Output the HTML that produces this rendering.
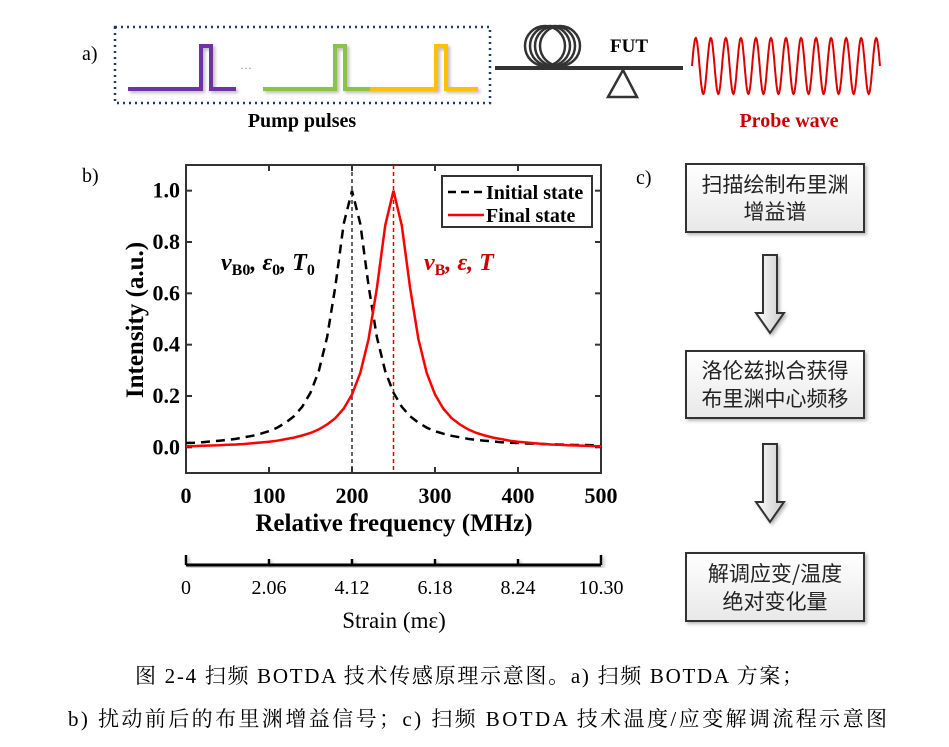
<!DOCTYPE html>
<html><head><meta charset="utf-8"><style>
body{margin:0;background:#fff;}
svg text{font-family:"Liberation Serif","Noto Serif CJK SC",serif;}
</style></head><body>
<svg width="949" height="742" viewBox="0 0 949 742" xmlns="http://www.w3.org/2000/svg">
<defs>
<filter id="sh" x="-10%" y="-10%" width="130%" height="140%"><feDropShadow dx="2" dy="2" stdDeviation="1.5" flood-color="#888" flood-opacity="0.6"/></filter>
<linearGradient id="bg" x1="0" y1="0" x2="0" y2="1"><stop offset="0" stop-color="#fff"/><stop offset="1" stop-color="#e8e8e8"/></linearGradient>
<linearGradient id="ag" x1="0" y1="0" x2="1" y2="0"><stop offset="0" stop-color="#fff"/><stop offset="1" stop-color="#c8c8c8"/></linearGradient>
</defs>
<!-- Panel a -->
<g>
<text x="82" y="60" font-size="20">a)</text>
<rect x="115" y="27" width="375" height="76" fill="none" stroke="#1f3a6e" stroke-width="2.5" stroke-dasharray="2,4"/>
<g filter="url(#sh)" fill="none" stroke-width="4">
<path d="M128 89 H201 V46 H211 V89 H236" stroke="#7030a0"/>
<path d="M263 89 H335 V46 H345 V89 H370" stroke="#8bc34a"/>
<path d="M370 89 H436 V46 H446 V89 H478" stroke="#ffc000"/>
</g>
<text x="240" y="72" font-size="12" fill="#888">···</text>
<text x="302" y="127" font-size="20" font-weight="bold" text-anchor="middle">Pump pulses</text>
<line x1="495" y1="68" x2="683" y2="68" stroke="#333" stroke-width="4"/>
<g fill="none" stroke="#333" stroke-width="2.5">
<circle cx="545" cy="46" r="20"/><circle cx="550" cy="46" r="20"/><circle cx="555" cy="46" r="20"/><circle cx="560" cy="46" r="20"/>
</g>
<text x="629" y="52" font-size="19" font-weight="bold" text-anchor="middle">FUT</text>
<polygon points="623,70 608,97 637,97" fill="none" stroke="#333" stroke-width="2.5"/>
<path id="probe" fill="none" stroke="#d00" stroke-width="2"/>
<text x="789" y="127" font-size="20" font-weight="bold" fill="#c00" text-anchor="middle">Probe wave</text>
</g>
<!-- Panel b -->
<g id="chart">
<text x="82" y="182" font-size="20">b)</text>
</g>
<!-- Panel c -->
<g font-size="21">
<text x="636" y="184" font-size="20">c)</text>
<g filter="url(#sh)">
<rect x="686" y="164" width="178" height="68" fill="url(#bg)" stroke="#333" stroke-width="2"/>
<rect x="686" y="351" width="178" height="67" fill="url(#bg)" stroke="#333" stroke-width="2"/>
<rect x="686" y="553" width="178" height="68" fill="url(#bg)" stroke="#333" stroke-width="2"/>
<path d="M763 255 H777 V313 H784 L770 333 L756 313 H763 Z" fill="url(#ag)" stroke="#333" stroke-width="2"/>
<path d="M763 444 H777 V502 H784 L770 522 L756 502 H763 Z" fill="url(#ag)" stroke="#333" stroke-width="2"/>
</g>
<g text-anchor="middle" fill="#222">
<text x="775" y="192" style="font-family:'Noto Sans CJK SC',sans-serif">扫描绘制布里渊</text>
<text x="775" y="219" style="font-family:'Noto Sans CJK SC',sans-serif">增益谱</text>
<text x="775" y="378" style="font-family:'Noto Sans CJK SC',sans-serif">洛伦兹拟合获得</text>
<text x="775" y="406" style="font-family:'Noto Sans CJK SC',sans-serif">布里渊中心频移</text>
<text x="775" y="581" style="font-family:'Noto Sans CJK SC',sans-serif">解调应变/温度</text>
<text x="775" y="609" style="font-family:'Noto Sans CJK SC',sans-serif">绝对变化量</text>
</g>
</g>
<!-- Caption -->
<text x="135" y="683" font-size="21" textLength="668" lengthAdjust="spacing">图 2-4  扫频 BOTDA 技术传感原理示意图。a)  扫频 BOTDA 方案；</text>
<text x="68" y="726" font-size="21" textLength="819" lengthAdjust="spacing">b)  扰动前后的布里渊增益信号；c)  扫频 BOTDA 技术温度/应变解调流程示意图</text>
</svg>
<script>
const freqs=[];for(let f=0;f<=500;f+=10)freqs.push(f);
const initialState=[0.017,0.018,0.020,0.023,0.026,0.029,0.033,0.039,0.045,0.053,0.063,0.077,0.096,0.121,0.158,0.213,0.297,0.429,0.628,0.871,1.0,0.871,0.628,0.429,0.297,0.213,0.158,0.121,0.096,0.077,0.063,0.053,0.045,0.039,0.033,0.029,0.026,0.023,0.020,0.018,0.017,0.015,0.014,0.013,0.012,0.011,0.010,0.009,0.009,0.008,0.007];
const finalState=[0.004,0.005,0.006,0.007,0.008,0.010,0.011,0.013,0.016,0.019,0.022,0.026,0.032,0.038,0.046,0.056,0.070,0.089,0.114,0.151,0.206,0.290,0.422,0.621,0.864,1.0,0.864,0.621,0.422,0.290,0.206,0.151,0.114,0.089,0.070,0.056,0.046,0.038,0.032,0.026,0.022,0.019,0.016,0.013,0.011,0.010,0.008,0.007,0.006,0.005,0.004];
const xTicks=[0,100,200,300,400,500];
const yTicks=[0.0,0.2,0.4,0.6,0.8,1.0];
const strainLabels=["0","2.06","4.12","6.18","8.24","10.30"];
const markerInitial=200, markerFinal=250;
const NS="http://www.w3.org/2000/svg";
const L=186,R=601,T=165,B=473;
const X=v=>L+(v-0)/(500-0)*(R-L);
const Y=v=>B-(v+0.1)/(1.2)*(B-T);
const g=document.getElementById('chart');
function el(tag,attrs,parent){const e=document.createElementNS(NS,tag);for(const k in attrs)e.setAttribute(k,attrs[k]);(parent||g).appendChild(e);return e;}
(function(){let d="";for(let i=0;i<=400;i++){const x=692+i*(188/400);const y=66-28*Math.sin(i/400*12.5*2*Math.PI);d+=(i?"L":"M")+x.toFixed(1)+" "+y.toFixed(1);}document.getElementById('probe').setAttribute('d',d);})();
const frame=el('rect',{x:L,y:T,width:R-L,height:B-T,fill:'none',stroke:'#333','stroke-width':2});


xTicks.forEach(t=>{
 el('line',{x1:X(t),x2:X(t),y1:B,y2:B-6,stroke:'#333','stroke-width':2});
 el('line',{x1:X(t),x2:X(t),y1:T,y2:T+6,stroke:'#333','stroke-width':2});
 const tx=el('text',{x:X(t),y:503,'font-size':22,'font-weight':'bold','text-anchor':'middle'});tx.textContent=t;
 
 
});
yTicks.forEach(t=>{
 el('line',{x1:L,x2:L+6,y1:Y(t),y2:Y(t),stroke:'#333','stroke-width':2});
 el('line',{x1:R,x2:R-6,y1:Y(t),y2:Y(t),stroke:'#333','stroke-width':2});
 const tx=el('text',{x:180,y:Y(t)+7,'font-size':22,'font-weight':'bold','text-anchor':'end'});tx.textContent=t.toFixed(1);
 
 
});
const xt=el('text',{x:394,y:531,'font-size':25,'font-weight':'bold','text-anchor':'middle'});xt.textContent='Relative frequency (MHz)';


const yt=el('text',{x:0,y:0,'font-size':25,'font-weight':'bold','text-anchor':'middle',transform:'translate(143,320) rotate(-90)'});yt.textContent='Intensity (a.u.)';


const m1=el('line',{x1:X(markerInitial),x2:X(markerInitial),y1:T,y2:B,stroke:'#333','stroke-width':1.5,'stroke-dasharray':'4,3'});


const m2=el('line',{x1:X(markerFinal),x2:X(markerFinal),y1:T,y2:B,stroke:'#d00','stroke-width':1.5,'stroke-dasharray':'4,3'});


function path(vals){return vals.map((v,i)=>(i?'L':'M')+X(freqs[i]).toFixed(1)+' '+Y(v).toFixed(1)).join('');}
const p1=el('path',{d:path(initialState),fill:'none',stroke:'#000','stroke-width':2.5,'stroke-dasharray':'9,6'});


const p2=el('path',{d:path(finalState),fill:'none',stroke:'#f00','stroke-width':2.5});


const lg=el('g',{});


el('rect',{x:442,y:176,width:150,height:51,fill:'#fff',stroke:'#333','stroke-width':2},lg);
el('line',{x1:448,x2:484,y1:192,y2:192,stroke:'#000','stroke-width':2.5,'stroke-dasharray':'8,5'},lg);
el('line',{x1:448,x2:484,y1:215,y2:215,stroke:'#f00','stroke-width':2.5},lg);
const l1=el('text',{x:486,y:199,'font-size':20,'font-weight':'bold'},lg);l1.textContent='Initial state';


const l2=el('text',{x:486,y:222,'font-size':20,'font-weight':'bold'},lg);l2.textContent='Final state';


const a1=el('text',{x:221,y:270,'font-size':24,'font-weight':'bold','font-style':'italic'});
a1.innerHTML='ν<tspan font-size="16" font-style="normal" dy="5">B0</tspan><tspan dy="-5">, ε</tspan><tspan font-size="16" font-style="normal" dy="5">0</tspan><tspan dy="-5">, T</tspan><tspan font-size="16" font-style="normal" dy="5">0</tspan>';


const a2=el('text',{x:424,y:270,'font-size':24,'font-weight':'bold','font-style':'italic',fill:'#c00'});
a2.innerHTML='ν<tspan font-size="16" font-style="normal" dy="5">B</tspan><tspan dy="-5">, ε, T</tspan>';


const sa=el('g',{filter:'url(#sh)'});


el('line',{x1:L,x2:R,y1:565,y2:565,stroke:'#000','stroke-width':3},sa);
strainLabels.forEach((s,i)=>{
 const x=L+i*(R-L)/5;
 el('line',{x1:x,x2:x,y1:565,y2:i===0||i===5?555:559,stroke:'#000','stroke-width':2.5},sa);
 const tx=el('text',{x:x,y:594,'font-size':20,'text-anchor':'middle'});tx.textContent=s;
 
 
});
const st=el('text',{x:394,y:628,'font-size':23,'text-anchor':'middle'});st.textContent='Strain (mε)';


</script>
</body></html>
